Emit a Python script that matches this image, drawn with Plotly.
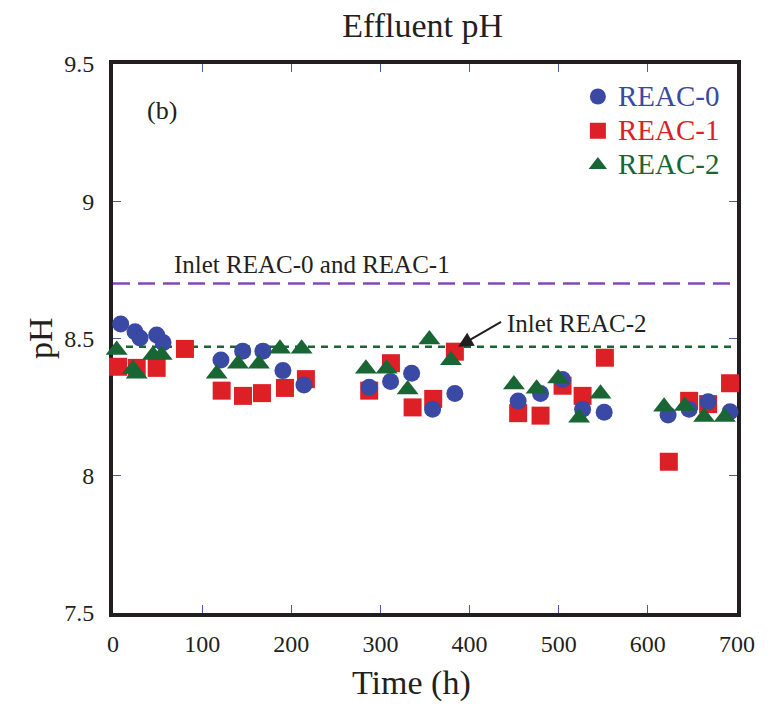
import plotly.graph_objects as go

# Sampling times (h) and effluent pH for each reactor
time_reac0 = [8.6, 24.7, 30.3, 49.0, 56.1, 121.1, 145.5, 168.2, 190.6, 214.2,
              287.4, 311.4, 335.0, 358.5, 383.5, 454.5, 479.6, 504.3, 526.8, 551.0,
              622.7, 646.3, 667.6, 692.2]
ph_reac0 = [8.553, 8.525, 8.502, 8.513, 8.485, 8.422, 8.454, 8.454, 8.383, 8.331,
            8.322, 8.343, 8.373, 8.242, 8.300, 8.272, 8.300, 8.351, 8.242, 8.231,
            8.221, 8.242, 8.270, 8.233]

time_reac1 = [5.6, 26.6, 49.0, 80.7, 121.9, 145.8, 167.1, 192.9, 216.4,
              287.4, 311.8, 336.1, 359.2, 383.5, 454.5, 479.6, 504.3, 526.8, 551.8,
              623.5, 646.3, 667.6, 692.2]
ph_reac1 = [8.397, 8.393, 8.393, 8.462, 8.310, 8.291, 8.301, 8.320, 8.352,
            8.310, 8.410, 8.249, 8.280, 8.452, 8.228, 8.219, 8.328, 8.291, 8.430,
            8.051, 8.273, 8.261, 8.337]

time_reac2 = [4.1, 22.4, 26.6, 44.9, 54.6, 116.3, 140.2, 163.7, 187.3, 211.6,
              283.7, 306.9, 330.5, 354.9, 379.1, 449.7, 475.2, 499.4, 522.9, 546.9,
              618.2, 641.5, 663.1, 686.3]
ph_reac2 = [8.458, 8.389, 8.372, 8.440, 8.440, 8.372, 8.408, 8.408, 8.463, 8.463,
            8.390, 8.390, 8.314, 8.496, 8.421, 8.332, 8.317, 8.354, 8.211, 8.299,
            8.251, 8.254, 8.214, 8.214]

# Inlet pH levels
inlet_reac01 = 8.70
inlet_reac2 = 8.47

x_range = [0, 700]
y_range = [7.5, 9.5]
x_ticks = [0, 100, 200, 300, 400, 500, 600, 700]
y_ticks = [7.5, 8, 8.5, 9, 9.5]

BLUE = "#3a49a3"
RED = "#dd1f26"
GREEN = "#196634"
PURPLE = "#8448b4"
INK = "#231f20"
FONT = "Liberation Serif, Times New Roman, serif"


def legend_label(text, color):
    return f'<span style="color:{color};font-size:29px">{text}</span>'


fig = go.Figure()

# Inlet reference lines
fig.add_trace(go.Scatter(x=x_range, y=[inlet_reac01] * 2, mode="lines",
                         line=dict(color=PURPLE, width=2.5, dash="17px,8px"),
                         showlegend=False, hoverinfo="skip", cliponaxis=False))
fig.add_trace(go.Scatter(x=x_range, y=[inlet_reac2] * 2, mode="lines",
                         line=dict(color=GREEN, width=2.5, dash="7px,6px"),
                         showlegend=False, hoverinfo="skip", cliponaxis=False))

# Measured effluent pH
fig.add_trace(go.Scatter(x=time_reac1, y=ph_reac1, mode="markers",
                         name=legend_label("REAC-1", RED),
                         legendrank=2, cliponaxis=False,
                         marker=dict(symbol="square", size=18, color=RED)))
fig.add_trace(go.Scatter(x=time_reac0, y=ph_reac0, mode="markers",
                         name=legend_label("REAC-0", BLUE),
                         legendrank=1, cliponaxis=False,
                         marker=dict(symbol="circle", size=17, color=BLUE)))
fig.add_trace(go.Scatter(x=time_reac2, y=ph_reac2, mode="markers",
                         name=legend_label("REAC-2", GREEN),
                         legendrank=3, cliponaxis=False,
                         marker=dict(symbol="triangle-up", size=19, color=GREEN)))

axis_common = dict(
    showline=True, linewidth=4, linecolor=INK, mirror="ticks",
    ticks="inside", ticklen=8, tickwidth=1, tickcolor="#4a5aa8",
    showgrid=False, zeroline=False, layer="below traces",
    tickfont=dict(family=FONT, size=24, color=INK),
)

fig.update_layout(
    width=774, height=709,
    margin=dict(l=113, r=37, t=64, b=96),
    paper_bgcolor="white", plot_bgcolor="white",
    font=dict(family=FONT, color=INK),
    title=dict(text="Effluent pH", x=0.546, xanchor="center",
               y=1 - 25 / 709, yanchor="middle", yref="container",
               font=dict(family=FONT, size=34, color=INK)),
    xaxis=dict(range=x_range, tickvals=x_ticks, ticklabelstandoff=6, **axis_common),
    yaxis=dict(range=y_range, tickvals=y_ticks, ticklabelstandoff=10, **axis_common),
    legend=dict(x=0.745, y=0.981, xanchor="left", yanchor="top",
                bgcolor="rgba(0,0,0,0)", font=dict(family=FONT, size=24),
                itemsizing="trace", tracegroupgap=0),
    showlegend=True,
)

# Axis titles
fig.add_annotation(xref="paper", yref="paper", x=0.479, y=-0.128,
                   xanchor="center", yanchor="middle",
                   text="Time (h)", showarrow=False,
                   font=dict(family=FONT, size=34, color=INK))
fig.add_annotation(xref="paper", yref="paper", x=-0.116, y=0.5,
                   xanchor="center", yanchor="middle", textangle=-90,
                   text="pH", showarrow=False,
                   font=dict(family=FONT, size=34, color=INK))

fig.add_annotation(x=55, y=9.332, text="(b)", showarrow=False,
                   font=dict(family=FONT, size=26, color=INK))
fig.add_annotation(x=223, y=8.768, text="Inlet REAC-0 and REAC-1", showarrow=False,
                   font=dict(family=FONT, size=25, color=INK))
fig.add_annotation(x=520, y=8.555, text="Inlet REAC-2", showarrow=False,
                   font=dict(family=FONT, size=25, color=INK))
# Arrow pointing at the REAC-2 inlet line
fig.add_annotation(x=387, y=inlet_reac2, ax=437, ay=8.564, axref="x", ayref="y",
                   text="", showarrow=True, arrowhead=2, arrowsize=1.5,
                   arrowwidth=2, arrowcolor=INK)

fig.write_html("out.html")
